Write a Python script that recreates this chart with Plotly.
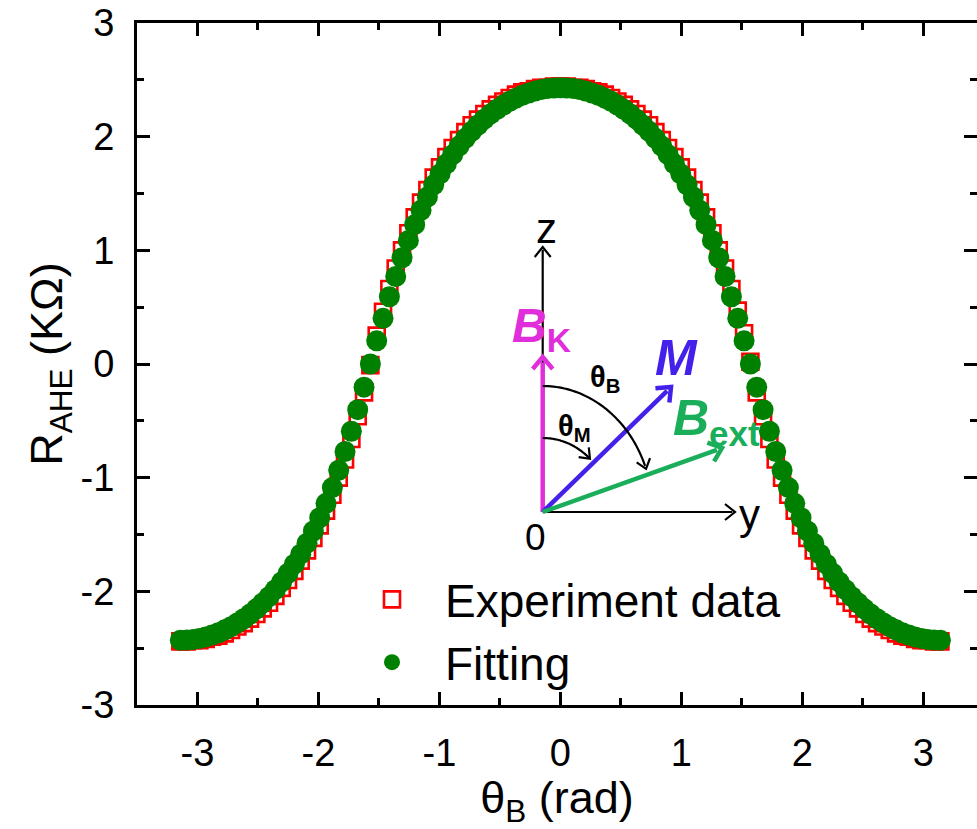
import numpy as np
import plotly.graph_objects as go

# ---------------- data ----------------
theta_deg = [-180, -177, -174, -171, -168, -165, -162, -159, -156, -153,
             -150, -147, -144, -141, -138, -135, -132, -129, -126, -123,
             -120, -117, -114, -111, -108, -105, -102, -99, -96, -93,
             -90, -87, -84, -81, -78, -75, -72, -69, -66, -63,
             -60, -57, -54, -51, -48, -45, -42, -39, -36, -33,
             -30, -27, -24, -21, -18, -15, -12, -9, -6, -3,
             0, 3, 6, 9, 12, 15, 18, 21, 24, 27,
             30, 33, 36, 39, 42, 45, 48, 51, 54, 57,
             60, 63, 66, 69, 72, 75, 78, 81, 84, 87,
             90, 93, 96, 99, 102, 105, 108, 111, 114, 117,
             120, 123, 126, 129, 132, 135, 138, 141, 144, 147,
             150, 153, 156, 159, 162, 165, 168, 171, 174, 177,
             180]

r_fitting = [-2.430, -2.428, -2.423, -2.414, -2.401, -2.384, -2.364, -2.339, -2.311, -2.278,
             -2.241, -2.200, -2.154, -2.103, -2.047, -1.985, -1.917, -1.842, -1.761, -1.673,
             -1.576, -1.469, -1.353, -1.226, -1.087, -0.935, -0.770, -0.592, -0.402, -0.204,
             0.000, 0.204, 0.402, 0.592, 0.770, 0.935, 1.087, 1.226, 1.353, 1.469,
             1.576, 1.673, 1.761, 1.842, 1.917, 1.985, 2.047, 2.103, 2.154, 2.200,
             2.241, 2.278, 2.311, 2.339, 2.364, 2.384, 2.401, 2.414, 2.423, 2.428,
             2.430, 2.428, 2.423, 2.414, 2.401, 2.384, 2.364, 2.339, 2.311, 2.278,
             2.241, 2.200, 2.154, 2.103, 2.047, 1.985, 1.917, 1.842, 1.761, 1.673,
             1.576, 1.469, 1.353, 1.226, 1.087, 0.935, 0.770, 0.592, 0.402, 0.204,
             0.000, -0.204, -0.402, -0.592, -0.770, -0.935, -1.087, -1.226, -1.353, -1.469,
             -1.576, -1.673, -1.761, -1.842, -1.917, -1.985, -2.047, -2.103, -2.154, -2.200,
             -2.241, -2.278, -2.311, -2.339, -2.364, -2.384, -2.401, -2.414, -2.423, -2.428,
             -2.430]

r_experiment = [-2.44, -2.44, -2.43, -2.43, -2.42, -2.40, -2.39, -2.37, -2.34, -2.31,
                -2.28, -2.24, -2.20, -2.15, -2.10, -2.04, -1.97, -1.90, -1.82, -1.73,
                -1.64, -1.53, -1.42, -1.29, -1.15, -1.00, -0.84, -0.66, -0.46, -0.25,
                -0.01, 0.25, 0.46, 0.66, 0.84, 1.00, 1.15, 1.29, 1.42, 1.53,
                1.64, 1.73, 1.82, 1.90, 1.97, 2.04, 2.10, 2.15, 2.20, 2.24,
                2.28, 2.31, 2.34, 2.37, 2.39, 2.40, 2.42, 2.43, 2.43, 2.44,
                2.44, 2.44, 2.43, 2.43, 2.42, 2.40, 2.39, 2.37, 2.34, 2.31,
                2.28, 2.24, 2.20, 2.15, 2.10, 2.04, 1.97, 1.90, 1.82, 1.73,
                1.64, 1.53, 1.42, 1.29, 1.15, 1.00, 0.84, 0.66, 0.47, 0.27,
                0.02, -0.25, -0.46, -0.66, -0.84, -1.00, -1.15, -1.29, -1.42, -1.53,
                -1.64, -1.73, -1.82, -1.90, -1.97, -2.04, -2.10, -2.15, -2.20, -2.24,
                -2.28, -2.31, -2.34, -2.37, -2.39, -2.40, -2.42, -2.43, -2.43, -2.44,
                -2.44]

x_tick_vals = [-3, -2, -1, 0, 1, 2, 3]
x_tick_text = ["-3", "-2", "-1", "0", "1", "2", "3"]
y_tick_vals = [-3, -2, -1, 0, 1, 2, 3]
y_tick_text = ["-3", "-2", "-1", "0", "1", "2", "3"]

x_vals = np.radians(theta_deg)

# ---------------- geometry ----------------
W, H = 977, 829
PL, PT, PB = 137, 23, 705          # plot area edges in px
X0, X1 = -3.5, 3.444
Y0, Y1 = -3.0, 3.0
FONT = "Liberation Sans, Arial, sans-serif"


def dx(px):
    return X0 + (px - PL) / (W - PL) * (X1 - X0)


def dy(py):
    return Y1 - (py - PT) / (PB - PT) * (Y1 - Y0)


fig = go.Figure()
fig.add_trace(go.Scatter(
    x=x_vals, y=r_experiment, mode="markers", name="Experiment data",
    marker=dict(symbol="square-open", size=16, color="#FF0000",
                line=dict(width=2.6, color="#FF0000")),
))
fig.add_trace(go.Scatter(
    x=x_vals, y=r_fitting, mode="markers", name="Fitting",
    marker=dict(symbol="circle", size=21, color="#008000", line=dict(width=0)),
))

axis_common = dict(
    showline=True, linewidth=3, linecolor="black", mirror="ticks",
    ticks="inside", ticklen=13, tickwidth=3, tickcolor="black",
    showgrid=False, zeroline=False, tickmode="array",
    minor=dict(ticks="inside", ticklen=7, tickwidth=3, tickcolor="black",
               dtick=0.5, tick0=0, showgrid=False),
    tickfont=dict(family=FONT, size=38, color="black"),
)

fig.update_layout(
    width=W, height=H,
    margin=dict(l=PL, r=0, t=PT, b=H - PB, autoexpand=False),
    paper_bgcolor="white", plot_bgcolor="white",
    xaxis=dict(range=[X0, X1], ticklabelstandoff=12,
               tickvals=x_tick_vals, ticktext=x_tick_text,
               title=dict(text="θ<sub>B</sub> (rad)", standoff=12,
                          font=dict(family=FONT, size=45, color="black")),
               **axis_common),
    yaxis=dict(range=[Y0, Y1], ticklabelstandoff=12,
               tickvals=y_tick_vals, ticktext=y_tick_text,
               title=dict(text="R<sub>AHE</sub> (KΩ)", standoff=4,
                          font=dict(family=FONT, size=45, color="black")),
               **axis_common),
    showlegend=True,
    legend=dict(x=(339 - PL) / (W - PL), y=(PB - 563) / (PB - PT),
                xanchor="left", yanchor="top", bgcolor="rgba(0,0,0,0)",
                font=dict(family=FONT, size=46, color="black"),
                itemwidth=96, tracegroupgap=0),
)

# ---------------- inset diagram (decoration, pixel geometry) ----------------
OX, OY = 542.7, 512.0
annotations = []
shapes = []


def seg_path(points):
    return "M " + " L ".join(f"{dx(a):.5f},{dy(b):.5f}" for a, b in points)


def head(tx, ty, ux, uy, color, width, length, half):
    nx, ny = -uy, ux
    p1 = (tx - length * ux + half * nx, ty - length * uy + half * ny)
    p2 = (tx - length * ux - half * nx, ty - length * uy - half * ny)
    shapes.append(dict(type="path", path=seg_path([p1, (tx, ty), p2]),
                       xref="x", yref="y", line=dict(color=color, width=width)))


def arrow(tx, ty, color, width, length, half):
    vx, vy = tx - OX, ty - OY
    n = np.hypot(vx, vy)
    ux, uy = vx / n, vy / n
    end = (tx - 1.2 * width * ux, ty - 1.2 * width * uy)
    shapes.append(dict(type="path", path=seg_path([(OX, OY), end]),
                       xref="x", yref="y", line=dict(color=color, width=width)))
    head(tx, ty, ux, uy, color, width, length, half)


arrow(542.7, 247, "black", 2.2, 10, 8)        # z axis
arrow(735, 512, "black", 2.2, 10, 8)          # y axis
arrow(542.7, 357, "#E02EDB", 4.5, 12, 10)     # B_K
arrow(671, 387, "#4420EA", 4.5, 12, 10)       # M
arrow(722, 448, "#1AAE5A", 4.5, 12, 10)       # B_ext


def arc(rx, ry, t_end_deg):
    ts = np.radians(np.linspace(0, t_end_deg, 50))
    pts = [(OX + rx * np.sin(t), OY - ry * np.cos(t)) for t in ts]
    shapes.append(dict(type="path", path=seg_path(pts[:-1]), xref="x", yref="y",
                       line=dict(color="black", width=2.2)))
    te = np.radians(t_end_deg)
    tx, ty = OX + rx * np.sin(te), OY - ry * np.cos(te)
    vx, vy = rx * np.cos(te), ry * np.sin(te)
    n = np.hypot(vx, vy)
    head(tx, ty, vx / n, vy / n, "black", 2.2, 9, 7)


arc(110, 126, 70)
arc(68, 74, 44)


def label(px, py, text, size, color="black"):
    annotations.append(dict(
        x=dx(px), y=dy(py), xref="x", yref="y", text=text, showarrow=False,
        xanchor="center", yanchor="middle",
        font=dict(family=FONT, size=size, color=color),
    ))


label(546, 228, "z", 42)
label(749, 514, "y", 42)
label(535, 537, "0", 37)
label(541, 329, "<b><i>B</i><sub>K</sub></b>", 48, "#E02EDB")
label(676, 358, "<b><i>M</i></b>", 50, "#4420EA")
label(716, 421, "<b><i>B</i><sub>ext</sub></b>", 50, "#1AAE5A")
label(605, 379, "<b>θ<sub>B</sub></b>", 29)
label(574, 428, "<b>θ<sub>M</sub></b>", 29)

fig.update_layout(annotations=annotations, shapes=shapes)

fig.write_html("out.html")
